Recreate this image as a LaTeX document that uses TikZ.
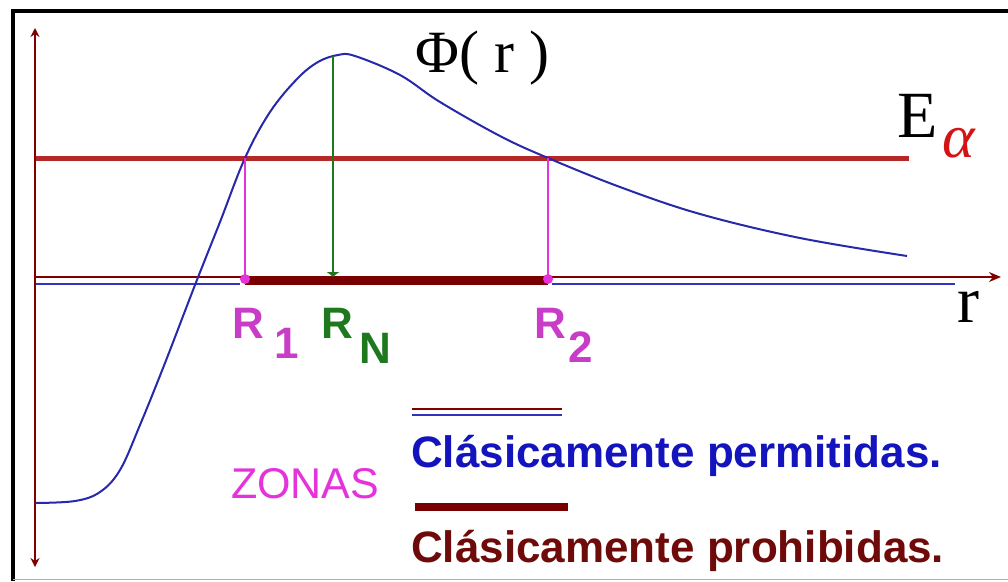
\documentclass[tikz,border=0pt]{standalone}
\usepackage{fontspec}
\setmainfont{Liberation Serif}
\setsansfont{Liberation Sans}
\usetikzlibrary{arrows.meta}
\definecolor{axisred}{RGB}{128,0,0}
\definecolor{ered}{RGB}{180,40,40}
\definecolor{curveblue}{RGB}{40,40,170}
\definecolor{lineblue}{RGB}{50,50,190}
\definecolor{mag}{RGB}{230,50,220}
\definecolor{rmag}{RGB}{200,60,200}
\definecolor{grn}{RGB}{30,120,30}
\definecolor{txtblue}{RGB}{20,20,190}
\definecolor{txtred}{RGB}{110,10,10}
\definecolor{barred}{RGB}{120,0,0}
\definecolor{alphared}{RGB}{210,20,20}
\begin{document}
\begin{tikzpicture}[x=1pt,y=-1pt,
  lbl/.style={inner sep=0pt, anchor=base west, font=\sffamily\bfseries\fontsize{44}{50}\selectfont},
  legend/.style={inner sep=0pt, anchor=base west, font=\sffamily\bfseries\fontsize{44}{50}\selectfont},
  serifbig/.style={inner sep=0pt, anchor=base west, font=\rmfamily\fontsize{66}{70}\selectfont},
  axisline/.style={axisred, line width=1.5pt},
  turnline/.style={mag, line width=2pt}]
\useasboundingbox (0,0) rectangle (1008,581);
\fill[white] (0,0) rectangle (1008,581);
% frame
\draw[line width=4.5pt] (13,581) -- (13,11) -- (1008,11);
\draw[gray!60, line width=1.5pt] (13,579.5) -- (1008,579.5);
% key coordinates
\coordinate (ytop) at (35,28);
\coordinate (ybot) at (35,567);
\coordinate (O) at (35,277);
\coordinate (xend) at (1001,277);
\coordinate (E0) at (35,158);
\coordinate (E1) at (909,158);
\coordinate (T1) at (245,158);
\coordinate (T2) at (548,158);
\coordinate (P) at (333,56);
\coordinate (R1) at (245,279);
\coordinate (RN) at (333,277);
\coordinate (R2) at (548,279);
% energy level
\draw[ered, line width=5pt] (E0) -- (E1);
% blue allowed zones on axis
\draw[lineblue, line width=2pt] (35,284) -- (240,284);
\draw[lineblue, line width=2pt] (552,284) -- (955,284);
% axes
\draw[axisline, {Stealth[length=9pt,width=9pt]}-{Stealth[length=9pt,width=9pt]}] (ybot) -- (ytop);
\draw[axisline, -{Stealth[length=12pt,width=10pt]}] (O) -- (xend);
% forbidden zone bar
\draw[barred, line width=8pt] ([yshift=-2pt]R1) -- ([yshift=-2pt]R2);
% potential curve
\draw[curveblue, line width=2pt] plot[smooth, tension=0.6] coordinates {
 (35,503) (75,501) (100,492) (120,470) (140,425) (165,363) (195,285)
 (220,222) (245,158) (270,112) (297,79) (318,62) (338,55) (355,56) (400,75)
 (440,102) (500,136) (548,158) (620,187) (700,214) (800,238) (907,256)};
% turning lines
\draw[turnline] (T1) -- (R1);
\draw[turnline] (T2) -- (R2);
\draw[grn, line width=2pt, -{Latex[length=5pt,width=14pt]}] (P) -- (RN);
\fill[mag] (R1) circle (5pt);
\fill[mag] (R2) circle (5pt);
% labels
\node[serifbig, font=\rmfamily\fontsize{60}{64}\selectfont] (phi) at (415,72) {Φ( r )};
\node[serifbig] (E) at (897,137) {E};
\node[inner sep=0pt, anchor=base west, text=alphared, font=\rmfamily\itshape\fontsize{62}{66}\selectfont] (alpha) at (942,157) {α};
\node[serifbig] (rlab) at (957,322) {r};
\node[lbl, text=rmag] (R1a) at (232,338) {R};
\node[lbl, text=rmag] (R1b) at (274,358) {1};
\node[lbl, text=grn] (RNa) at (321,338) {R};
\node[lbl, text=grn] (RNb) at (359,363) {N};
\node[lbl, text=rmag] (R2a) at (534,338) {R};
\node[lbl, text=rmag] (R2b) at (568,362) {2};
% legend
\node[inner sep=0pt, anchor=base west, text=mag, font=\sffamily\fontsize{43}{46}\selectfont] (zonas) at (231,498) {ZONAS};
\coordinate (L1a) at (412,409); \coordinate (L1b) at (562,409);
\coordinate (L2a) at (412,415); \coordinate (L2b) at (562,415);
\coordinate (L3a) at (415,507); \coordinate (L3b) at (568,507);
\draw[axisred, line width=2pt] (L1a) -- (L1b);
\draw[lineblue, line width=2pt] (L2a) -- (L2b);
\draw[barred, line width=8pt] (L3a) -- (L3b);
\node[legend, text=txtblue] (perm) at (411,467) {Clásicamente permitidas.};
\node[legend, text=txtred] (proh) at (411,562) {Clásicamente prohibidas.};
\end{tikzpicture}
\end{document}
